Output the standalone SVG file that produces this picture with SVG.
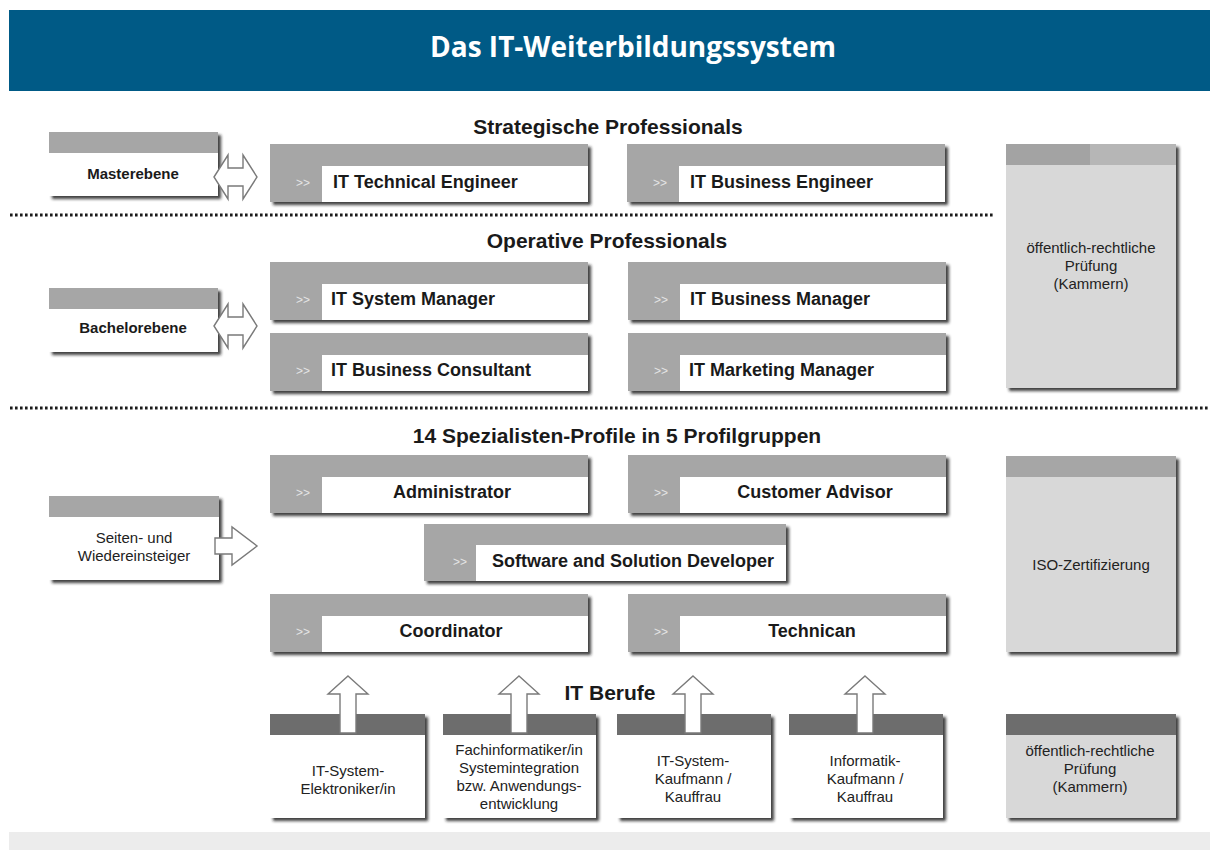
<svg xmlns="http://www.w3.org/2000/svg" width="1210" height="850" viewBox="0 0 1210 850">
<defs>
<filter id="sh" x="-10%" y="-10%" width="130%" height="130%">
<feDropShadow dx="3" dy="3" stdDeviation="1.4" flood-color="#222" flood-opacity="0.85"/>
</filter>
</defs>
<style>
text{font-family:"Liberation Sans",Arial,sans-serif;fill:#1a1a1a}
.title{font-family:"Open Sans","Liberation Sans",sans-serif;font-weight:bold;font-size:28px;fill:#fff}
.head{font-weight:bold;font-size:21px;text-anchor:middle}
.lbl{font-weight:bold;font-size:18px}
.lblc{font-weight:bold;font-size:18px;text-anchor:middle}
.sm{font-weight:bold;font-size:15px;text-anchor:middle}
.reg{font-size:15px;text-anchor:middle;fill:#222}
.mk{font-size:12px;fill:#e4e4e4}
.g{fill:#a6a6a6}
.w{fill:#fff}
.lt{fill:#d8d8d8}
.dk{fill:#6d6d6d}
.dots{stroke:#1a1a1a;stroke-width:3;stroke-dasharray:2.6 2.4;fill:none}
.arr{fill:#fff;stroke:#7a7a7a;stroke-width:1.4;stroke-linejoin:miter}
</style>

<rect x="9" y="10" width="1201" height="81" fill="#005a86"/>
<text class="title" x="633" y="57" text-anchor="middle">Das IT-Weiterbildungssystem</text>

<text class="head" x="608" y="134">Strategische Professionals</text>
<text class="head" x="607" y="248">Operative Professionals</text>
<text class="head" x="617" y="443">14 Spezialisten-Profile in 5 Profilgruppen</text>
<text class="head" x="610" y="700">IT Berufe</text>

<g id="separators">
<line class="dots" x1="10" y1="215" x2="993" y2="215"/>
<line class="dots" x1="10" y1="408" x2="1210" y2="408"/>
</g>

<g id="masterebene">
<g filter="url(#sh)"><rect class="g" x="49" y="132" width="169" height="64"/><rect class="w" x="49" y="153" width="169" height="43"/></g>
<text class="sm" x="133" y="179">Masterebene</text>
</g>
<g id="bachelorebene">
<g filter="url(#sh)"><rect class="g" x="49" y="288" width="169" height="64"/><rect class="w" x="49" y="309" width="169" height="43"/></g>
<text class="sm" x="133" y="333">Bachelorebene</text>
</g>
<g id="seiteneinsteiger">
<g filter="url(#sh)"><rect class="g" x="49" y="496" width="170" height="84"/><rect class="w" x="49" y="517" width="170" height="63"/></g>
<text class="reg" x="134" y="543">Seiten- und</text>
<text class="reg" x="134" y="561">Wiedereinsteiger</text>
</g>

<g id="it-technical-engineer">
<g filter="url(#sh)"><rect class="g" x="270" y="144" width="318" height="58"/><rect class="w" x="322" y="166" width="266" height="36"/></g>
<text class="mk" x="296" y="187">&gt;&gt;</text>
<text class="lbl" x="333" y="188">IT Technical Engineer</text>
</g>
<g id="it-business-engineer">
<g filter="url(#sh)"><rect class="g" x="627" y="144" width="318" height="58"/><rect class="w" x="679" y="166" width="266" height="36"/></g>
<text class="mk" x="653" y="187">&gt;&gt;</text>
<text class="lbl" x="690" y="188">IT Business Engineer</text>
</g>
<g id="it-system-manager">
<g filter="url(#sh)"><rect class="g" x="270" y="262" width="318" height="58"/><rect class="w" x="322" y="284" width="266" height="36"/></g>
<text class="mk" x="296" y="304">&gt;&gt;</text>
<text class="lbl" x="331" y="305">IT System Manager</text>
</g>
<g id="it-business-manager">
<g filter="url(#sh)"><rect class="g" x="628" y="262" width="318" height="58"/><rect class="w" x="680" y="284" width="266" height="36"/></g>
<text class="mk" x="654" y="304">&gt;&gt;</text>
<text class="lbl" x="690" y="305">IT Business Manager</text>
</g>
<g id="it-business-consultant">
<g filter="url(#sh)"><rect class="g" x="270" y="333" width="318" height="58"/><rect class="w" x="322" y="355" width="266" height="36"/></g>
<text class="mk" x="296" y="375">&gt;&gt;</text>
<text class="lbl" x="331" y="376">IT Business Consultant</text>
</g>
<g id="it-marketing-manager">
<g filter="url(#sh)"><rect class="g" x="628" y="333" width="318" height="58"/><rect class="w" x="680" y="355" width="266" height="36"/></g>
<text class="mk" x="654" y="375">&gt;&gt;</text>
<text class="lbl" x="689" y="376">IT Marketing Manager</text>
</g>

<g id="administrator">
<g filter="url(#sh)"><rect class="g" x="270" y="455" width="318" height="58"/><rect class="w" x="322" y="477" width="266" height="36"/></g>
<text class="mk" x="296" y="497">&gt;&gt;</text>
<text class="lblc" x="452" y="498">Administrator</text>
</g>
<g id="customer-advisor">
<g filter="url(#sh)"><rect class="g" x="628" y="455" width="318" height="58"/><rect class="w" x="680" y="477" width="266" height="36"/></g>
<text class="mk" x="654" y="497">&gt;&gt;</text>
<text class="lblc" x="815" y="498">Customer Advisor</text>
</g>
<g id="software-solution-developer">
<g filter="url(#sh)"><rect class="g" x="424" y="524" width="362" height="57"/><rect class="w" x="476" y="545" width="310" height="36"/></g>
<text class="mk" x="453" y="566">&gt;&gt;</text>
<text class="lblc" x="633" y="567">Software and Solution Developer</text>
</g>
<g id="coordinator">
<g filter="url(#sh)"><rect class="g" x="270" y="594" width="318" height="58"/><rect class="w" x="322" y="616" width="266" height="36"/></g>
<text class="mk" x="296" y="636">&gt;&gt;</text>
<text class="lblc" x="451" y="637">Coordinator</text>
</g>
<g id="technican">
<g filter="url(#sh)"><rect class="g" x="628" y="594" width="318" height="58"/><rect class="w" x="680" y="616" width="266" height="36"/></g>
<text class="mk" x="654" y="636">&gt;&gt;</text>
<text class="lblc" x="812" y="637">Technican</text>
</g>

<g id="pruefung-oben">
<g filter="url(#sh)"><rect class="lt" x="1006" y="144" width="170" height="244"/><rect x="1006" y="144" width="84" height="21" fill="#a3a3a3"/><rect x="1090" y="144" width="86" height="21" fill="#b6b6b6"/></g>
<text class="reg" x="1091" y="253">öffentlich-rechtliche</text>
<text class="reg" x="1091" y="271">Prüfung</text>
<text class="reg" x="1091" y="289">(Kammern)</text>
</g>
<g id="iso">
<g filter="url(#sh)"><rect class="lt" x="1006" y="456" width="170" height="196"/><rect class="g" x="1006" y="456" width="170" height="21"/></g>
<text class="reg" x="1091" y="570">ISO-Zertifizierung</text>
</g>
<g id="pruefung-unten">
<g filter="url(#sh)"><rect class="lt" x="1006" y="714" width="170" height="104"/><rect class="dk" x="1006" y="714" width="170" height="21"/></g>
<text class="reg" x="1090" y="756">öffentlich-rechtliche</text>
<text class="reg" x="1090" y="774">Prüfung</text>
<text class="reg" x="1090" y="792">(Kammern)</text>
</g>

<g id="it-system-elektroniker">
<g filter="url(#sh)"><rect class="w" x="270" y="714" width="155" height="104"/><rect class="dk" x="270" y="714" width="155" height="21"/></g>
<text class="reg" x="348" y="776">IT-System-</text>
<text class="reg" x="348" y="794">Elektroniker/in</text>
</g>
<g id="fachinformatiker">
<g filter="url(#sh)"><rect class="w" x="443" y="714" width="153" height="104"/><rect class="dk" x="443" y="714" width="153" height="21"/></g>
<text class="reg" x="519" y="755">Fachinformatiker/in</text>
<text class="reg" x="519" y="773">Systemintegration</text>
<text class="reg" x="519" y="791">bzw. Anwendungs-</text>
<text class="reg" x="519" y="809">entwicklung</text>
</g>
<g id="it-system-kaufmann">
<g filter="url(#sh)"><rect class="w" x="617" y="714" width="154" height="104"/><rect class="dk" x="617" y="714" width="154" height="21"/></g>
<text class="reg" x="693" y="766">IT-System-</text>
<text class="reg" x="693" y="784">Kaufmann /</text>
<text class="reg" x="693" y="802">Kauffrau</text>
</g>
<g id="informatik-kaufmann">
<g filter="url(#sh)"><rect class="w" x="789" y="714" width="154" height="104"/><rect class="dk" x="789" y="714" width="154" height="21"/></g>
<text class="reg" x="865" y="766">Informatik-</text>
<text class="reg" x="865" y="784">Kaufmann /</text>
<text class="reg" x="865" y="802">Kauffrau</text>
</g>

<g id="connectors">
<path class="arr" d="M214,177 L228,155 L228,168 L243,168 L243,155 L257,177 L243,199 L243,186 L228,186 L228,199 Z"/>
<path class="arr" d="M214,326 L228,304 L228,317 L243,317 L243,304 L257,326 L243,348 L243,335 L228,335 L228,348 Z"/>
<path class="arr" d="M215,538 L232,538 L232,527 L257,546 L232,565 L232,554 L215,554 Z"/>
<path class="arr" d="M348,676 L368,694 L356,694 L356,733 L340,733 L340,694 L328,694 Z"/>
<path class="arr" d="M519,676 L539,694 L527,694 L527,733 L511,733 L511,694 L499,694 Z"/>
<path class="arr" d="M693,676 L713,694 L701,694 L701,733 L685,733 L685,694 L673,694 Z"/>
<path class="arr" d="M865,676 L885,694 L873,694 L873,733 L857,733 L857,694 L845,694 Z"/>
</g>

<rect x="9" y="832" width="1201" height="18" fill="#ececec"/>
</svg>
